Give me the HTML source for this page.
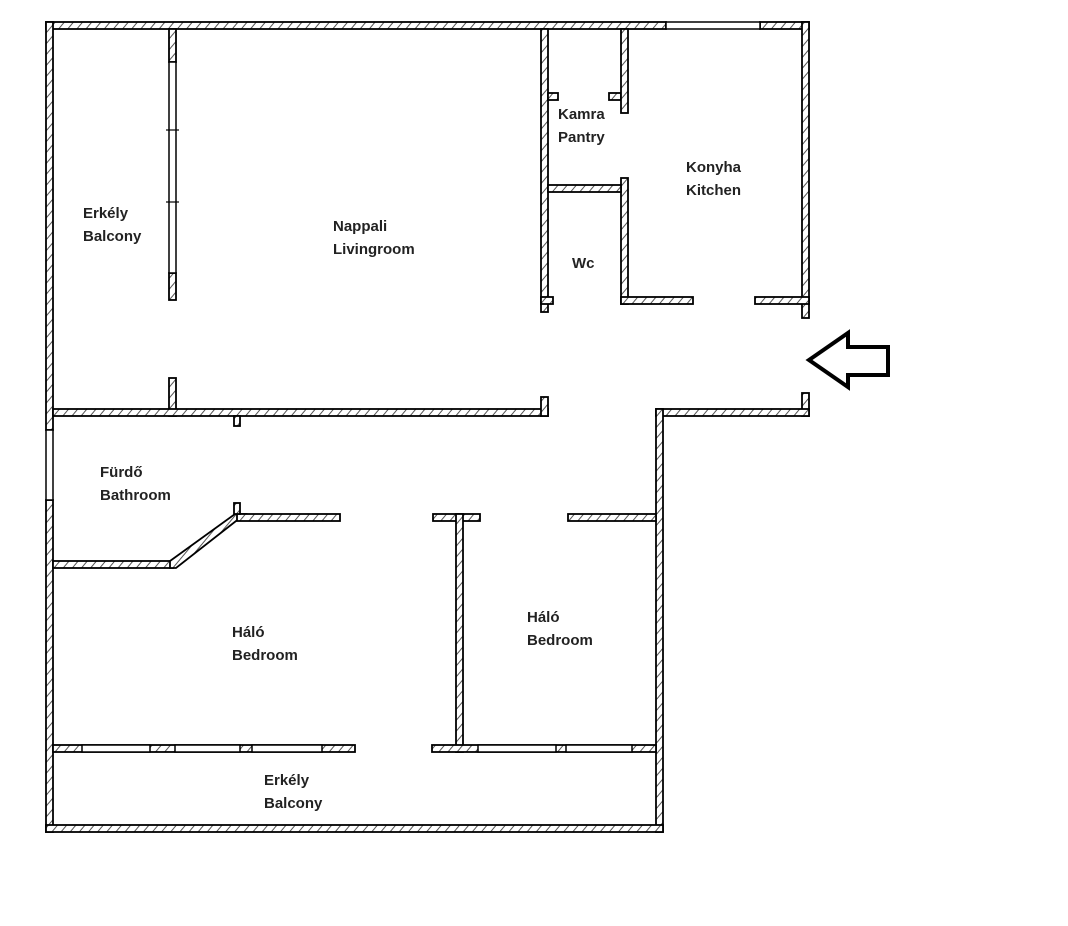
<!DOCTYPE html>
<html><head><meta charset="utf-8"><style>
html,body{margin:0;padding:0;background:#fff;}
svg{display:block;}
text{font-family:"Liberation Sans",sans-serif;font-weight:bold;font-size:15px;fill:#222;}
</style></head><body>
<svg width="1068" height="926" viewBox="0 0 1068 926" xmlns="http://www.w3.org/2000/svg">
<defs>
<pattern id="h" width="7" height="7" patternUnits="userSpaceOnUse" patternTransform="rotate(40)">
<rect width="7" height="7" fill="#fff"/><line x1="0" y1="0" x2="0" y2="7" stroke="#555" stroke-width="2"/>
</pattern>
</defs>
<g fill="url(#h)" stroke="#000" stroke-width="1.8">
<rect x="46" y="22" width="620" height="7"/>
<rect x="760" y="22" width="49" height="7"/>
<rect x="46" y="22" width="7" height="408"/>
<rect x="46" y="500" width="7" height="332"/>
<rect x="802" y="22" width="7" height="296"/>
<rect x="802" y="393" width="7" height="23"/>
<rect x="656" y="409" width="153" height="7"/>
<rect x="656" y="409" width="7" height="423"/>
<rect x="46" y="825" width="617" height="7"/>
<rect x="169" y="29" width="7" height="33"/>
<rect x="169" y="273" width="7" height="27"/>
<rect x="169" y="378" width="7" height="38"/>
<rect x="53" y="409" width="495" height="7"/>
<rect x="541" y="397" width="7" height="19"/>
<rect x="234" y="416" width="6" height="10"/>
<rect x="541" y="29" width="7" height="283"/>
<rect x="548" y="93" width="10" height="7"/>
<rect x="609" y="93" width="12" height="7"/>
<rect x="621" y="29" width="7" height="84"/>
<rect x="621" y="178" width="7" height="126"/>
<rect x="548" y="185" width="73" height="7"/>
<rect x="541" y="297" width="12" height="7"/>
<rect x="621" y="297" width="72" height="7"/>
<rect x="755" y="297" width="54" height="7"/>
<rect x="53" y="561" width="120" height="7"/>
<polygon points="170,561 235,514 245,514 176,568 170,568"/>
<rect x="237" y="514" width="103" height="7"/>
<rect x="234" y="503" width="6" height="11"/>
<rect x="433" y="514" width="47" height="7"/>
<rect x="456" y="514" width="7" height="238"/>
<rect x="568" y="514" width="88" height="7"/>
<rect x="53" y="745" width="302" height="7"/>
<rect x="432" y="745" width="224" height="7"/>
</g>
<g fill="#fff" stroke="#000" stroke-width="1.5">
<rect x="666" y="22" width="94" height="7"/>
<rect x="46" y="430" width="7" height="70"/>
<rect x="169" y="62" width="7" height="211"/>
<rect x="82" y="745" width="68" height="7"/>
<rect x="175" y="745" width="65" height="7"/>
<rect x="252" y="745" width="70" height="7"/>
<rect x="478" y="745" width="78" height="7"/>
<rect x="566" y="745" width="66" height="7"/>
</g>
<g stroke="#000" stroke-width="1.2">
<line x1="166" y1="130" x2="179" y2="130"/><line x1="166" y1="202" x2="179" y2="202"/>
</g>
<polygon points="809,360 848,333 848,347 888,347 888,375 848,375 848,387" fill="#fff" stroke="#000" stroke-width="4"/>
<text x="83" y="218">Erkély</text><text x="83" y="241">Balcony</text>
<text x="333" y="231">Nappali</text><text x="333" y="254">Livingroom</text>
<text x="558" y="119">Kamra</text><text x="558" y="142">Pantry</text>
<text x="686" y="172">Konyha</text><text x="686" y="195">Kitchen</text>
<text x="572" y="268">Wc</text>
<text x="100" y="477">Fürdő</text><text x="100" y="500">Bathroom</text>
<text x="232" y="637">Háló</text><text x="232" y="660">Bedroom</text>
<text x="527" y="622">Háló</text><text x="527" y="645">Bedroom</text>
<text x="264" y="785">Erkély</text><text x="264" y="808">Balcony</text>
</svg>
</body></html>
